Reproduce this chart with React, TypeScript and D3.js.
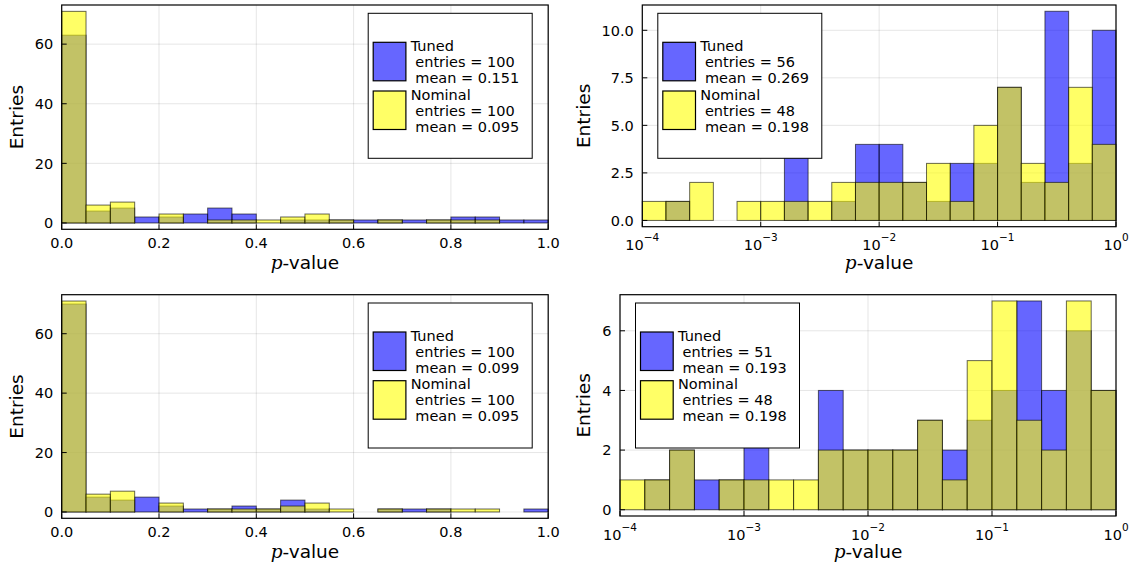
import React from "react";
import * as d3 from "d3";

// bin edges
const linEdges = [0, 0.05, 0.1, 0.15, 0.2, 0.25, 0.3, 0.35, 0.4, 0.45, 0.5, 0.55, 0.6, 0.65, 0.7, 0.75, 0.8, 0.85, 0.9, 0.95, 1.0];
const logEdgeExp = [-4, -3.8, -3.6, -3.4, -3.2, -3, -2.8, -2.6, -2.4, -2.2, -2, -1.8, -1.6, -1.4, -1.2, -1, -0.8, -0.6, -0.4, -0.2, 0];

// counts per bin
const tunedTL = [63, 4, 5, 2, 2, 3, 5, 3, 0, 1, 1, 1, 1, 1, 1, 1, 2, 2, 1, 1];
const nominalTL = [71, 6, 7, 0, 3, 0, 1, 1, 1, 2, 3, 1, 0, 1, 0, 1, 1, 1, 0, 0];
const tunedTR = [0, 1, 0, 0, 0, 0, 4, 0, 1, 4, 4, 2, 1, 3, 3, 7, 2, 11, 3, 10];
const nominalTR = [1, 1, 2, 0, 1, 1, 1, 1, 2, 2, 2, 2, 3, 1, 5, 7, 3, 2, 7, 4];
const tunedBL = [70, 5, 4, 5, 2, 1, 1, 2, 1, 4, 1, 0, 0, 1, 1, 1, 0, 0, 0, 1];
const nominalBL = [71, 6, 7, 0, 3, 0, 1, 1, 1, 2, 3, 1, 0, 1, 0, 1, 1, 1, 0, 0];
const tunedBR = [0, 1, 2, 1, 1, 3, 0, 0, 4, 2, 2, 2, 3, 2, 3, 4, 7, 4, 6, 4];
const nominalBR = [1, 1, 2, 0, 1, 1, 1, 1, 2, 2, 2, 2, 3, 1, 5, 7, 3, 2, 7, 4];

// ticks
const xTicksLin = [0, 0.2, 0.4, 0.6, 0.8, 1.0];
const xTicksLogExp = [-4, -3, -2, -1, 0];
const yTicksCounts = [0, 20, 40, 60];
const yTicksTR = [0, 2.5, 5, 7.5, 10];
const yTicksBR = [0, 2, 4, 6];

// legend text
const legendTL = [["Tuned", " entries = 100", " mean = 0.151"], ["Nominal", " entries = 100", " mean = 0.095"]];
const legendTR = [["Tuned", " entries = 56", " mean = 0.269"], ["Nominal", " entries = 48", " mean = 0.198"]];
const legendBL = [["Tuned", " entries = 100", " mean = 0.099"], ["Nominal", " entries = 100", " mean = 0.095"]];
const legendBR = [["Tuned", " entries = 51", " mean = 0.193"], ["Nominal", " entries = 48", " mean = 0.198"]];

const FONT = "DejaVu Sans, sans-serif";
const colors = ["#0000ff", "#ffff00"];

function Panel(props: any) {
  const { box, tuned, nominal, log, yTicks, yFmt, legend, legendLeft, cellLeft } = props;
  const edges = log ? logEdgeExp.map((e) => Math.pow(10, e)) : linEdges;
  const x: any = log
    ? d3.scaleLog().domain([1e-4, 1]).range([box.l, box.r])
    : d3.scaleLinear().domain([0, 1]).range([box.l, box.r]);
  const yMax = d3.max([...tuned, ...nominal]) as number;
  const pad = yMax * 0.03;
  const y = d3.scaleLinear().domain([-pad, yMax + pad]).range([box.b, box.t]);
  const xTicks = log ? xTicksLogExp.map((e) => Math.pow(10, e)) : xTicksLin;

  const lw = 164, lh = 145;
  const lx = legendLeft ? box.l + 15.5 : box.r - 16 - lw;
  const ly = box.t + 8.3;

  const bars = (vals: number[], color: string, key: string) =>
    vals.map((v, i) => (
      <rect
        key={key + i}
        x={x(edges[i])}
        y={y(v)}
        width={x(edges[i + 1]) - x(edges[i])}
        height={y(0) - y(v)}
        fill={color}
        fillOpacity={0.6}
        stroke="#000"
        strokeOpacity={0.6}
        strokeWidth={1}
      />
    ));

  return (
    <g fontFamily={FONT}>
      {/* grid */}
      {xTicks.map((t: number, i: number) => (
        <line key={"gx" + i} x1={x(t)} x2={x(t)} y1={box.t} y2={box.b} stroke="#000" strokeOpacity={0.1} />
      ))}
      {yTicks.map((t: number, i: number) => (
        <line key={"gy" + i} x1={box.l} x2={box.r} y1={y(t)} y2={y(t)} stroke="#000" strokeOpacity={0.1} />
      ))}
      {bars(tuned, colors[0], "t")}
      {bars(nominal, colors[1], "n")}
      {/* frame */}
      <rect x={box.l} y={box.t} width={box.r - box.l} height={box.b - box.t} fill="none" stroke="#000" strokeWidth={1.2} />
      {/* ticks */}
      {xTicks.map((t: number, i: number) => (
        <line key={"tx" + i} x1={x(t)} x2={x(t)} y1={box.b} y2={box.b - 5} stroke="#000" />
      ))}
      {yTicks.map((t: number, i: number) => (
        <line key={"ty" + i} x1={box.l} x2={box.l + 5} y1={y(t)} y2={y(t)} stroke="#000" />
      ))}
      {/* tick labels */}
      {xTicks.map((t: number, i: number) =>
        log ? (
          <text key={"lx" + i} x={x(t)} y={box.b + 23.5} fontSize={14.5} textAnchor="middle" fill="#000">
            10
            <tspan dy={-9} fontSize={10.5}>{xTicksLogExp[i] < 0 ? "\u2212" + -xTicksLogExp[i] : "0"}</tspan>
          </text>
        ) : (
          <text key={"lx" + i} x={x(t)} y={box.b + 18.5} fontSize={14.5} textAnchor="middle" fill="#000">
            {d3.format(".1f")(t)}
          </text>
        )
      )}
      {yTicks.map((t: number, i: number) => (
        <text key={"ly" + i} x={box.l - 8.5} y={y(t)} dy="0.36em" fontSize={14.5} textAnchor="end" fill="#000">
          {yFmt(t)}
        </text>
      ))}
      {/* axis labels */}
      <text
        transform={`translate(${cellLeft + 23},${(box.t + box.b) / 2}) rotate(-90)`}
        fontSize={18.5}
        textAnchor="middle"
        fill="#000"
      >
        Entries
      </text>
      <text x={(box.l + box.r) / 2} y={box.b + (log ? 42 : 39.5)} fontSize={18.5} textAnchor="middle" fill="#000">
        <tspan fontFamily="DejaVu Serif, serif" fontStyle="italic">p</tspan>-value
      </text>
      {/* legend */}
      <rect x={lx} y={ly} width={lw} height={lh} fill="#fff" stroke="#000" strokeWidth={1} />
      {legend.map((lines: string[], k: number) => (
        <g key={"lg" + k}>
          <rect
            x={lx + 5}
            y={ly + 29 + k * 48.7}
            width={32.7}
            height={38.5}
            fill={colors[k]}
            fillOpacity={0.6}
            stroke="#000"
            strokeWidth={1.2}
          />
          <text x={lx + 42.5} y={ly + 37.6 + k * 48.6} fontSize={14.5} fill="#000" style={{ whiteSpace: "pre" }}>
            {lines.map((s, j) => (
              <tspan key={j} x={lx + 42.5} dy={j === 0 ? 0 : 16}>
                {s}
              </tspan>
            ))}
          </text>
        </g>
      ))}
    </g>
  );
}

export default function App() {
  const fmtInt = (v: number) => d3.format("d")(v);
  const fmt1 = (v: number) => d3.format(".1f")(v);
  return (
    <div style={{ position: "absolute", left: 0, top: 0, width: 1134, height: 568, background: "#fff" }}>
      <svg width={1134} height={568} viewBox="0 0 1134 568">
        <rect width={1134} height={568} fill="#fff" />
        <Panel
          box={{ l: 61.7, r: 548.2, t: 5, b: 229.3 }}
          tuned={tunedTL}
          nominal={nominalTL}
          log={false}
          yTicks={yTicksCounts}
          yFmt={fmtInt}
          legend={legendTL}
          legendLeft={false}
          cellLeft={0}
        />
        <Panel
          box={{ l: 642.3, r: 1116, t: 5, b: 226.7 }}
          tuned={tunedTR}
          nominal={nominalTR}
          log={true}
          yTicks={yTicksTR}
          yFmt={fmt1}
          legend={legendTR}
          legendLeft={true}
          cellLeft={567}
        />
        <Panel
          box={{ l: 61.7, r: 548.2, t: 294.7, b: 518.3 }}
          tuned={tunedBL}
          nominal={nominalBL}
          log={false}
          yTicks={yTicksCounts}
          yFmt={fmtInt}
          legend={legendBL}
          legendLeft={false}
          cellLeft={0}
        />
        <Panel
          box={{ l: 620, r: 1116, t: 294.7, b: 516 }}
          tuned={tunedBR}
          nominal={nominalBR}
          log={true}
          yTicks={yTicksBR}
          yFmt={fmtInt}
          legend={legendBR}
          legendLeft={true}
          cellLeft={567}
        />
      </svg>
    </div>
  );
}
